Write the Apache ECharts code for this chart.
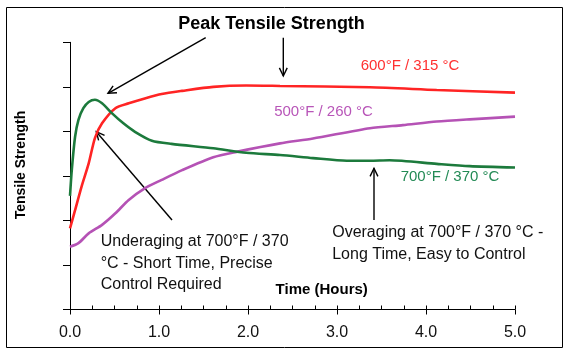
<!DOCTYPE html>
<html><head><meta charset="utf-8">
<script src="https://cdn.jsdelivr.net/npm/echarts@6/dist/echarts.min.js"></script>
<style>html,body{margin:0;padding:0;background:#fff}#c{width:569px;height:355px}</style>
</head><body><div id="c"></div>
<script>
// ---- data (time in hours, tensile strength in relative units) ----
const timeTicks = [0, 1, 2, 3, 4, 5];
const t600 = [0, 0.057, 0.13, 0.21, 0.28, 0.36, 0.51, 0.66, 0.84, 1.03, 1.26, 1.61, 1.98, 2.36, 3.37, 4.12, 5.0];
const v600 = [1.82, 2.23, 2.76, 3.28, 3.85, 4.18, 4.52, 4.63, 4.74, 4.84, 4.91, 5.0, 5.03, 5.02, 4.99, 4.93, 4.87];
const t500 = [0, 0.095, 0.21, 0.36, 0.51, 0.66, 0.84, 1.03, 1.26, 1.61, 1.87, 2.36, 2.73, 3.37, 3.74, 4.12, 4.49, 5.0];
const v500 = [1.41, 1.49, 1.71, 1.90, 2.16, 2.46, 2.72, 2.91, 3.13, 3.42, 3.54, 3.73, 3.84, 4.07, 4.14, 4.22, 4.27, 4.33];
const t700 = [0, 0.02, 0.057, 0.095, 0.15, 0.21, 0.28, 0.36, 0.47, 0.60, 0.73, 0.92, 1.14, 1.61, 1.98, 2.36, 2.73, 3.11, 3.37, 3.59, 4.12, 4.49, 5.0];
const v700 = [2.55, 3.13, 3.88, 4.26, 4.52, 4.66, 4.71, 4.63, 4.41, 4.18, 3.99, 3.79, 3.72, 3.62, 3.52, 3.47, 3.40, 3.34, 3.34, 3.35, 3.27, 3.22, 3.19];
const seriesNames = ['600°F / 315 °C', '500°F / 260 °C', '700°F / 370 °C'];

const FONT = "'Liberation Sans', Arial, sans-serif";
const zip = (a, b) => a.map((x, i) => [x, b[i]]);

function arrow(x1, y1, x2, y2) {
  const ang = Math.atan2(y2 - y1, x2 - x1);
  const L = 9, A = 0.45;
  const p1 = [x2 - L * Math.cos(ang - A), y2 - L * Math.sin(ang - A)];
  const p2 = [x2 - L * Math.cos(ang + A), y2 - L * Math.sin(ang + A)];
  return {
    type: 'group', children: [
      { type: 'line', shape: { x1, y1, x2, y2 }, style: { stroke: '#000', lineWidth: 1.4 } },
      { type: 'polyline', shape: { points: [p1, [x2, y2], p2] }, style: { stroke: '#000', lineWidth: 1.4, fill: null } }
    ]
  };
}
function txt(x, y, text, size, color, opts) {
  return Object.assign({
    type: 'text', x, y,
    style: Object.assign({ text, fill: color, font: size + 'px ' + FONT, textAlign: 'left', textVerticalAlign: 'middle' }, opts || {})
  });
}

const chart = echarts.init(document.getElementById('c'), null, { renderer: 'canvas' });
const lineStyle = (c) => ({ color: c, width: 2.6 });
chart.setOption({
  animation: false,
  backgroundColor: '#fff',
  grid: { left: 70, right: 54, top: 42.3, bottom: 45.5 },
  xAxis: [
    {
      type: 'value', min: 0, max: 5, interval: 1, position: 'bottom',
      axisLine: { show: true, lineStyle: { color: '#000', width: 1 } },
      axisTick: { show: true, inside: false, length: 5, lineStyle: { color: '#000' } },
      axisLabel: {
        show: true, margin: 15, color: '#111', fontSize: 16, fontFamily: FONT,
        customValues: timeTicks, formatter: v => Number(v).toFixed(1)
      },
      splitLine: { show: false }
    },
    {
      type: 'value', min: 0, max: 5, interval: 0.25, position: 'bottom',
      axisLine: { show: false },
      axisTick: { show: true, inside: true, length: 4, lineStyle: { color: '#000' } },
      axisLabel: { show: false },
      splitLine: { show: false }
    }
  ],
  yAxis: {
    type: 'value', min: 0, max: 6, interval: 1,
    axisLine: { show: true, lineStyle: { color: '#000', width: 1 } },
    axisTick: { show: true, inside: false, length: 7, lineStyle: { color: '#000' } },
    axisLabel: { show: false },
    splitLine: { show: false }
  },
  series: [
    { name: seriesNames[0], type: 'line', xAxisIndex: 0, data: zip(t600, v600), smooth: 0.25, showSymbol: false, lineStyle: lineStyle('#ff2424'), z: 3 },
    { name: seriesNames[1], type: 'line', xAxisIndex: 0, data: zip(t500, v500), smooth: 0.25, showSymbol: false, lineStyle: lineStyle('#b552b5'), z: 2 },
    { name: seriesNames[2], type: 'line', xAxisIndex: 0, data: zip(t700, v700), smooth: 0.25, showSymbol: false, lineStyle: lineStyle('#1c7a3c'), z: 4 }
  ],
  graphic: [
    { type: 'rect', shape: { x: 6.5, y: 7.5, width: 556, height: 340 }, style: { fill: null, stroke: '#000', lineWidth: 1 } },
    txt(271.5, 24, 'Peak Tensile Strength', 18, '#000', { textAlign: 'center', font: 'bold 18px ' + FONT }),
    arrow(205.7, 37.7, 108, 93.3),
    arrow(283.3, 37.7, 283.3, 76),
    arrow(172, 220, 96.3, 131.7),
    arrow(374, 220, 374, 168.3),
    txt(410, 66, seriesNames[0], 15, '#ff3030', { textAlign: 'center' }),
    txt(323.5, 111.5, seriesNames[1], 15, '#b855b8', { textAlign: 'center' }),
    txt(450, 176.7, seriesNames[2], 15, '#238a55', { textAlign: 'center' }),
    txt(100.7, 241.7, 'Underaging at 700°F / 370', 16, '#111'),
    txt(100.7, 263.3, '°C - Short Time, Precise', 16, '#111'),
    txt(100.7, 285, 'Control Required', 16, '#111'),
    txt(332.2, 232.3, 'Overaging at 700°F / 370 °C -', 16, '#111'),
    txt(332.2, 254.3, 'Long Time, Easy to Control', 16, '#111'),
    txt(321.7, 289.5, 'Time (Hours)', 15, '#000', { textAlign: 'center', font: 'bold 15px ' + FONT }),
    { type: 'text', x: 20.7, y: 165, rotation: Math.PI / 2,
      style: { text: 'Tensile Strength', fill: '#000', font: 'bold 14px ' + FONT, textAlign: 'center', textVerticalAlign: 'middle' } }
  ]
});
</script>
</body></html>
